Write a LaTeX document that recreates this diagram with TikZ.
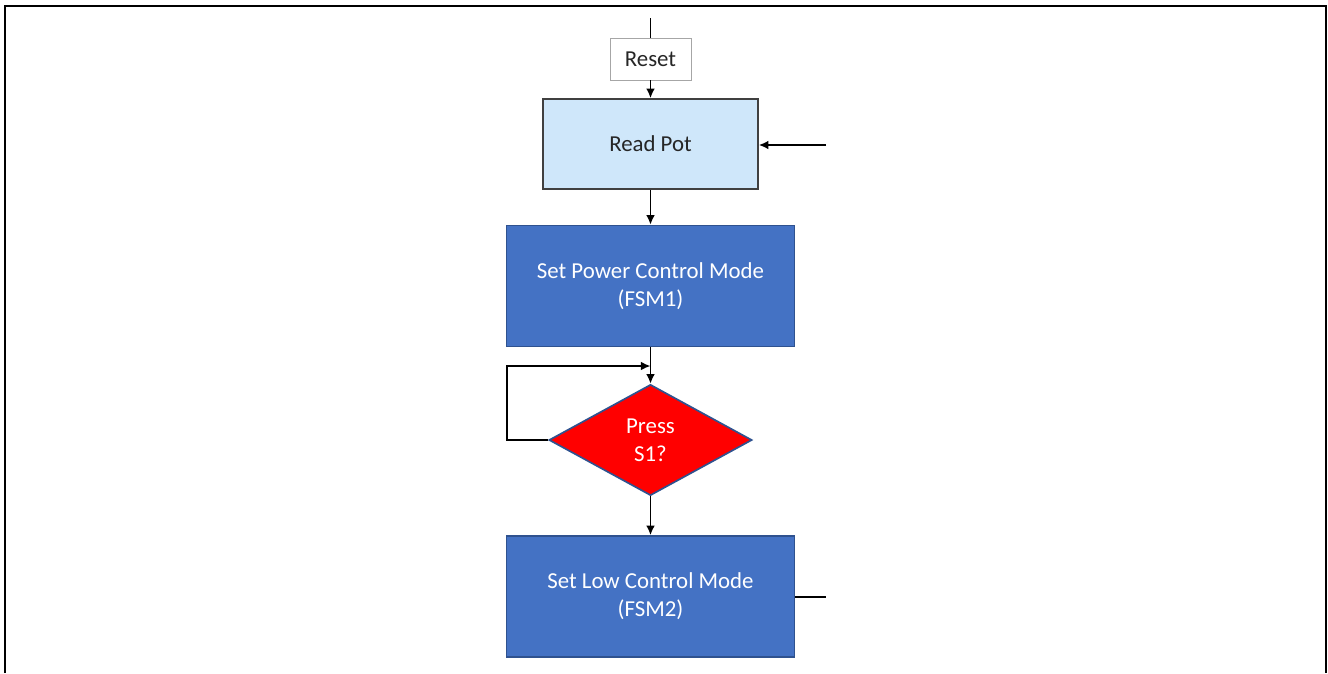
\documentclass[tikz,border=0pt]{standalone}
\usepackage{fontspec}
\setmainfont{Carlito}
\usetikzlibrary{shapes.geometric,arrows.meta}
\definecolor{potblue}{RGB}{207,231,250}
\definecolor{fsmblue}{RGB}{68,114,196}
\definecolor{fsmedge}{RGB}{47,82,143}
\begin{document}
\begin{tikzpicture}
  [x=0.02cm,y=-0.02cm,line width=0.95pt,
   every node/.style={font=\fontsize{13}{16}\selectfont,align=center,inner sep=0pt},
   resetbox/.style={draw=black!35,line width=0.5pt,fill=white,text=black!85,
     minimum width=1.62cm,minimum height=0.84cm},
   potbox/.style={draw=black!75,fill=potblue,text=black!85,
     minimum width=4.3cm,minimum height=1.8cm},
   fsmbox/.style={draw=fsmedge,fill=fsmblue,text=white,
     minimum width=5.76cm,minimum height=2.42cm},
   decide/.style={diamond,draw=fsmedge,fill=red,text=white,
     minimum width=4.06cm,minimum height=2.22cm},
   arr/.style={-{Latex[length=5.5pt,width=5pt]}}]
  \useasboundingbox (0,0) rectangle (1328,673);
  \draw[line width=1.6pt] (5,673) -- (5,6) -- (1326,6) -- (1326,673);

  \node[resetbox] (reset) at (650.5,59) {Reset};
  \node[potbox] (readpot) at (650.5,144) {Read Pot};
  \node[fsmbox] (fsm1) at (650.5,286) {Set Power Control Mode\\(FSM1)};
  \node[decide] (press) at (650.5,440) {Press\\S1?};
  \node[fsmbox] (fsm2) at (650.5,596.5) {Set Low Control Mode\\(FSM2)};

  \coordinate (top) at (650.5,18);
  \coordinate (back) at (826,145);
  \coordinate (out) at (826,597);
  \coordinate (lp1) at (507,440);
  \coordinate (lp2) at (507,366);
  \coordinate (lp3) at (650.5,366);

  \draw (top) -- (reset);
  \foreach \from/\to in {reset/readpot,readpot/fsm1,fsm1/press,press/fsm2}
    \draw[arr] (\from) -- (\to);
  \draw[arr] (back) -- (readpot.east |- back);
  \draw[arr] (press.west) -- (lp1) -- (lp2) -- (lp3);
  \draw (fsm2.east |- out) -- (out);
\end{tikzpicture}
\end{document}
